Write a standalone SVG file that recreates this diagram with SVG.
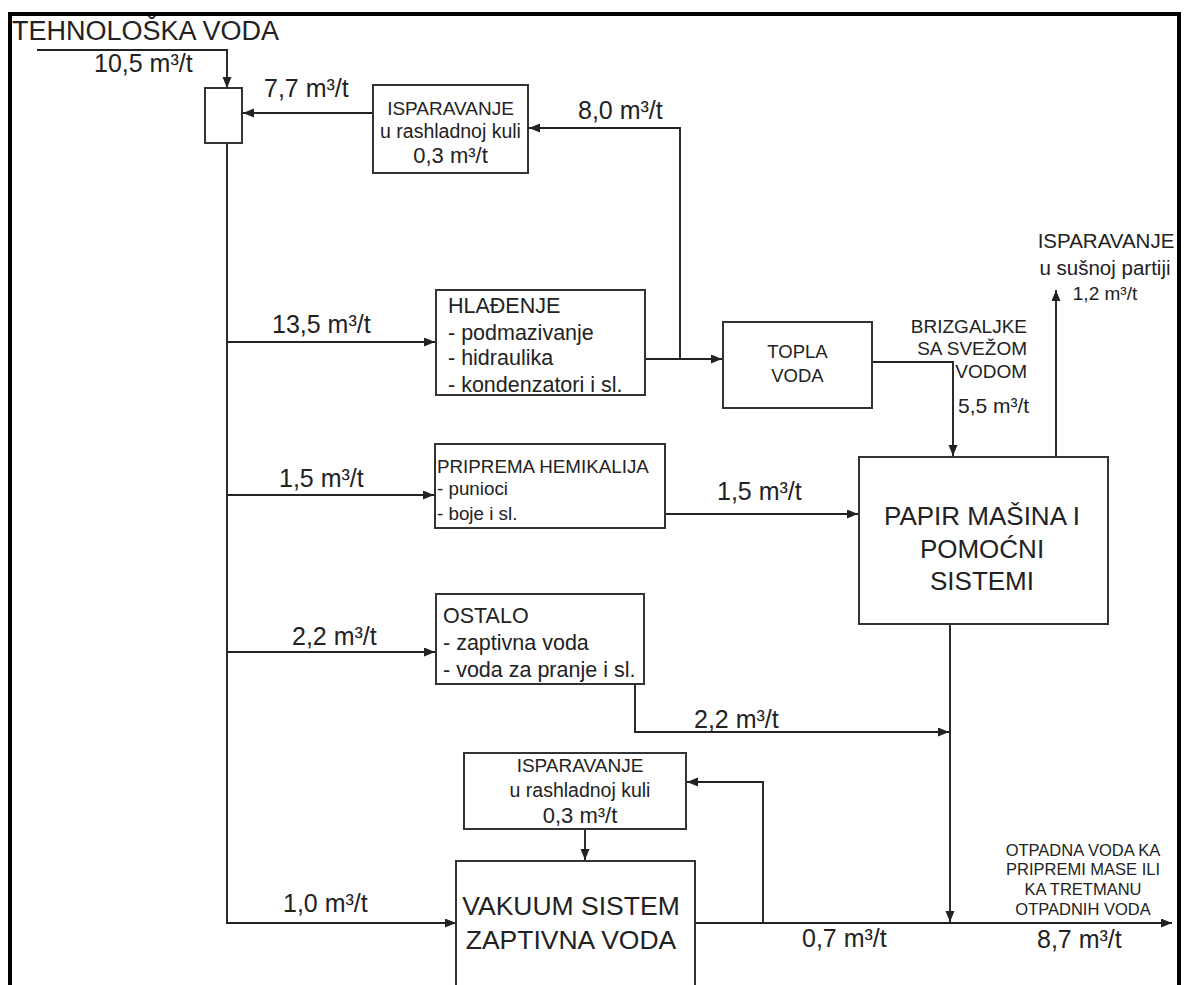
<svg xmlns="http://www.w3.org/2000/svg" width="1184" height="985" viewBox="0 0 1184 985">
<style>
text{font-family:"Liberation Sans",Arial,sans-serif;fill:#222}
.box{fill:#fff;stroke:#333;stroke-width:2}
.ln{fill:none;stroke:#222;stroke-width:1.9}
.fl{font-size:25px}
.c{text-anchor:middle}
.e{text-anchor:end}
</style>
<defs>
<marker id="ah" markerUnits="userSpaceOnUse" markerWidth="12" markerHeight="10" refX="11" refY="4.5" orient="auto">
<path d="M0,0 L11,4.5 L0,9 z" fill="#222"/>
</marker>
</defs>
<rect width="1184" height="985" fill="#fff"/>
<path d="M10,985 V14 H1179 V985" fill="none" stroke="#000" stroke-width="4"/>

<g id="connectors">
<path class="ln" d="M37,50 H227 V88" marker-end="url(#ah)"/>
<path class="ln" d="M373,113 H243" marker-end="url(#ah)"/>
<path class="ln" d="M680,359 V128 H529" marker-end="url(#ah)"/>
<path class="ln" d="M227,143 V923 H456" marker-end="url(#ah)"/>
<path class="ln" d="M227,342 H435" marker-end="url(#ah)"/>
<path class="ln" d="M227,495 H434" marker-end="url(#ah)"/>
<path class="ln" d="M227,652 H435" marker-end="url(#ah)"/>
<path class="ln" d="M645,359 H722" marker-end="url(#ah)"/>
<path class="ln" d="M872,362 H953 V456" marker-end="url(#ah)"/>
<path class="ln" d="M665,514 H858" marker-end="url(#ah)"/>
<path class="ln" d="M1056,457 V290" marker-end="url(#ah)"/>
<path class="ln" d="M950,624 V922" marker-end="url(#ah)"/>
<path class="ln" d="M635,684 V732 H949" marker-end="url(#ah)"/>
<path class="ln" d="M695,923 H1172" marker-end="url(#ah)"/>
<path class="ln" d="M763,923 V782 H687" marker-end="url(#ah)"/>
<path class="ln" d="M585,829 V860" marker-end="url(#ah)"/>
</g>

<g id="labels">
<text x="12" y="40" font-size="27">TEHNOLOŠKA VODA</text>
<text class="fl" x="94" y="72">10,5 m³/t</text>
<text class="fl" x="264" y="97">7,7 m³/t</text>
<text class="fl" x="578" y="119">8,0 m³/t</text>
<text class="fl" x="272" y="333">13,5 m³/t</text>
<text class="fl" x="279" y="487">1,5 m³/t</text>
<text class="fl" x="717" y="500">1,5 m³/t</text>
<text class="fl" x="292" y="645">2,2 m³/t</text>
<text class="fl" x="694" y="728">2,2 m³/t</text>
<text class="fl" x="283" y="912">1,0 m³/t</text>
<text class="fl" x="802" y="947">0,7 m³/t</text>
<text class="fl" x="1037" y="948">8,7 m³/t</text>
</g>

<g id="splitter"><rect class="box" x="205" y="88" width="37" height="55"/></g>

<g id="isparavanje-kula-1">
<rect class="box" x="373" y="85" width="155" height="88"/>
<text class="c" x="450.5" y="115" font-size="19">ISPARAVANJE</text>
<text class="c" x="450.5" y="138" font-size="19.5">u rashladnoj kuli</text>
<text class="c" x="450.5" y="163" font-size="22">0,3 m³/t</text>
</g>

<g id="hladjenje">
<rect class="box" x="436" y="290" width="209" height="105"/>
<text x="448" y="313" font-size="21.5">HLAĐENJE</text>
<text x="448" y="340" font-size="21.5">- podmazivanje</text>
<text x="448" y="365" font-size="21.5">- hidraulika</text>
<text x="448" y="392" font-size="21.5">- kondenzatori i sl.</text>
</g>

<g id="topla-voda">
<rect class="box" x="723" y="322" width="149" height="86"/>
<text class="c" x="797.5" y="358" font-size="18.5">TOPLA</text>
<text class="c" x="797.5" y="382" font-size="18.5">VODA</text>
</g>

<g id="brizgaljke">
<text class="e" x="1027" y="333" font-size="19">BRIZGALJKE</text>
<text class="e" x="1027" y="355" font-size="19">SA SVEŽOM</text>
<text class="e" x="1027" y="378" font-size="19">VODOM</text>
<text x="958" y="413" font-size="21">5,5 m³/t</text>
</g>

<g id="isparavanje-susna">
<text class="c" x="1106" y="248" font-size="20.5">ISPARAVANJE</text>
<text class="c" x="1105" y="275" font-size="20.5">u sušnoj partiji</text>
<text class="c" x="1105" y="300" font-size="19">1,2 m³/t</text>
</g>

<g id="priprema-hemikalija">
<rect class="box" x="435" y="444" width="230" height="84"/>
<text x="437" y="473" font-size="18.8">PRIPREMA HEMIKALIJA</text>
<text x="437" y="495" font-size="18.8">- punioci</text>
<text x="437" y="520" font-size="18.8">- boje i sl.</text>
</g>

<g id="papir-masina">
<rect class="box" x="859" y="457" width="249" height="167"/>
<text class="c" x="982" y="525" font-size="26">PAPIR MAŠINA I</text>
<text class="c" x="982" y="558" font-size="26">POMOĆNI</text>
<text class="c" x="982" y="590" font-size="26">SISTEMI</text>
</g>

<g id="ostalo">
<rect class="box" x="436" y="594" width="208" height="90"/>
<text x="443" y="623" font-size="21.5">OSTALO</text>
<text x="443" y="650" font-size="21.5">- zaptivna voda</text>
<text x="443" y="677" font-size="21.5">- voda za pranje i sl.</text>
</g>

<g id="isparavanje-kula-2">
<rect class="box" x="464" y="753" width="222" height="76"/>
<text class="c" x="580" y="772" font-size="19">ISPARAVANJE</text>
<text class="c" x="580" y="797" font-size="19.5">u rashladnoj kuli</text>
<text class="c" x="580" y="823" font-size="22">0,3 m³/t</text>
</g>

<g id="vakuum-sistem">
<rect class="box" x="456" y="861" width="239" height="200"/>
<text class="c" x="571" y="915" font-size="26.5">VAKUUM SISTEM</text>
<text class="c" x="571" y="949" font-size="26.5">ZAPTIVNA VODA</text>
</g>

<g id="otpadna-voda">
<text class="c" x="1083" y="856" font-size="16.5">OTPADNA VODA KA</text>
<text class="c" x="1083" y="875" font-size="16.5">PRIPREMI MASE ILI</text>
<text class="c" x="1083" y="895" font-size="16.5">KA TRETMANU</text>
<text class="c" x="1083" y="915" font-size="16.5">OTPADNIH VODA</text>
</g>
</svg>
